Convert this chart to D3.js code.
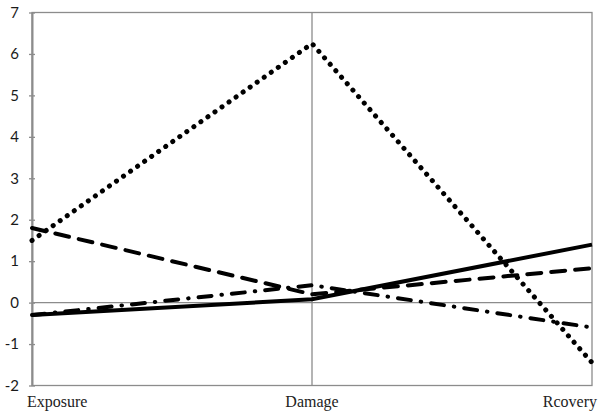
<!DOCTYPE html>
<html>
<head>
<meta charset="utf-8">
<script src="https://cdn.jsdelivr.net/npm/d3@7"></script>
<style>
  body { margin: 0; background: #fff; }
  svg { display: block; }
</style>
</head>
<body>
<div id="chart"></div>
<script>
// Chart data
const categories = ["Exposure", "Damage", "Rcovery"];
const dotted = [1.5, 6.25, -1.45];
const longDash = [1.8, 0.2, 0.83];
const solid = [-0.3, 0.08, 1.4];
const dashDot = [-0.3, 0.42, -0.6];
const yTicks = [-2, -1, 0, 1, 2, 3, 4, 5, 6, 7];

const width = 604;
const height = 416;
const margin = { top: 12.5, right: 12, bottom: 30.5, left: 32 };

const svg = d3.select("#chart").append("svg")
    .attr("width", width)
    .attr("height", height);

const x = d3.scalePoint()
    .domain(categories)
    .range([margin.left, width - margin.right]);

const y = d3.scaleLinear()
    .domain([-2, 7])
    .range([height - margin.bottom, margin.top]);

const gridColor = "#8c8c8c";

// Plot frame
svg.append("rect")
    .attr("x", x(categories[0]))
    .attr("y", y(7))
    .attr("width", x(categories[2]) - x(categories[0]))
    .attr("height", y(-2) - y(7))
    .attr("fill", "none")
    .attr("stroke", gridColor)
    .attr("stroke-width", 1.3);

// vertical line at the middle category
svg.append("line")
    .attr("x1", x("Damage")).attr("x2", x("Damage"))
    .attr("y1", y(7)).attr("y2", y(-2))
    .attr("stroke", gridColor)
    .attr("stroke-width", 1.3);

// horizontal line at zero
svg.append("line")
    .attr("x1", x(categories[0])).attr("x2", x(categories[2]))
    .attr("y1", y(0)).attr("y2", y(0))
    .attr("stroke", gridColor)
    .attr("stroke-width", 1.3);

// Y axis (plain hyphen for negatives, as in the source)
const yAxis = d3.axisLeft(y)
    .tickValues(yTicks)
    .tickFormat(d => String(d))
    .tickSizeInner(3)
    .tickSizeOuter(0)
    .tickPadding(10);

const yG = svg.append("g")
    .attr("transform", `translate(${margin.left},0)`)
    .call(yAxis);

yG.select(".domain").attr("stroke", gridColor).attr("stroke-width", 2);
yG.selectAll(".tick line")
    .attr("x1", -3).attr("x2", 3)
    .attr("stroke", gridColor)
    .attr("stroke-width", 1.3);
yG.selectAll(".tick text")
    .attr("x", -13)
    .style("font-family", "Lato, 'Open Sans', sans-serif")
    .style("font-size", "15px")
    .attr("fill", "#1a1a1a");

// Category labels
svg.append("g").selectAll("text")
    .data(categories)
    .enter().append("text")
    .attr("x", (d, i) => i === 0 ? x(d) - 5 : i === categories.length - 1 ? x(d) + 5 : x(d))
    .attr("y", height - 9)
    .attr("text-anchor", (d, i) => i === 0 ? "start" : i === categories.length - 1 ? "end" : "middle")
    .style("font-family", "'Liberation Serif', 'Times New Roman', serif")
    .style("font-size", "16px")
    .style("font-weight", "normal")
    .attr("fill", "#222")
    .text(d => d);

// Series lines
const line = d3.line()
    .x((d, i) => x(categories[i]))
    .y(d => y(d));

const series = [
    { values: solid, dash: null, width: 4 },
    { values: longDash, dash: "14,10", width: 4 },
    { values: dashDot, dash: "13,10,0.5,10", width: 4 },
    { values: dotted, dash: "0.1,8.5", width: 5 }
];

svg.append("g").selectAll("path")
    .data(series)
    .enter().append("path")
    .attr("d", d => line(d.values))
    .attr("fill", "none")
    .attr("stroke", "#000")
    .attr("stroke-width", d => d.width)
    .attr("stroke-linecap", d => d.dash ? "round" : "butt")
    .attr("stroke-dasharray", d => d.dash);
</script>
</body>
</html>
